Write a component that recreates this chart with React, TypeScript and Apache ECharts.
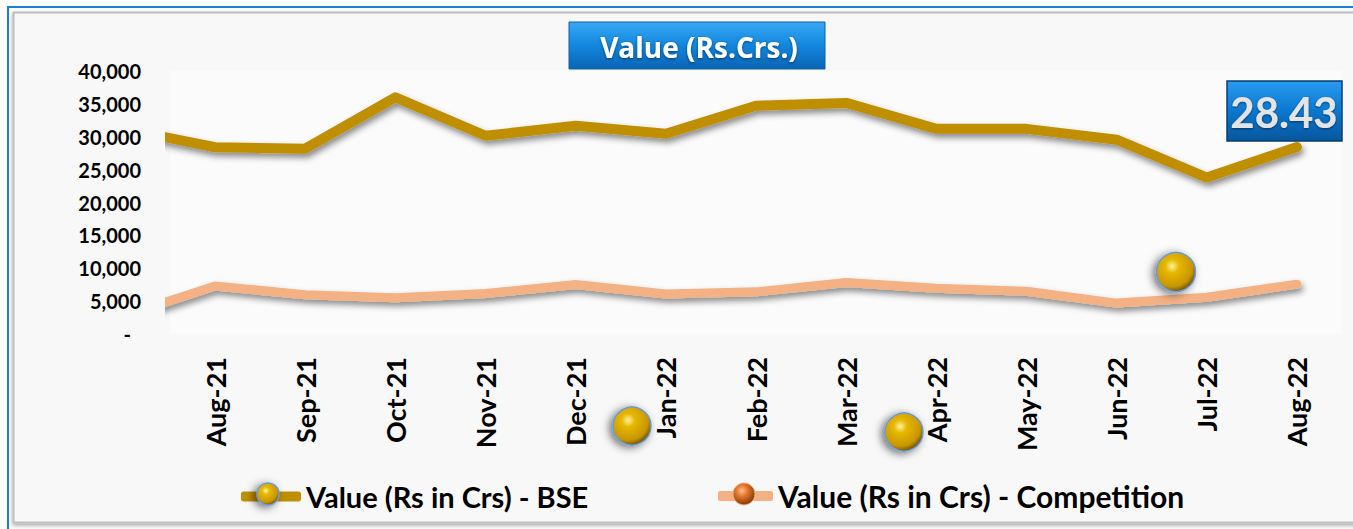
import React, { useEffect, useRef } from "react";
import * as echarts from "echarts";

const months = ["Aug-21", "Sep-21", "Oct-21", "Nov-21", "Dec-21", "Jan-22", "Feb-22", "Mar-22", "Apr-22", "May-22", "Jun-22", "Jul-22", "Aug-22"];
// index -1 is the previous month (Jul-21), only partly visible at the left edge
const xIndex = [-1, 0, 1, 2, 3, 4, 5, 6, 7, 8, 9, 10, 11, 12];
const bseValues = [31170, 28400, 28180, 36000, 30150, 31670, 30450, 34700, 35150, 31200, 31200, 29550, 23800, 28430];
const compValues = [2850, 7300, 5960, 5530, 6160, 7530, 6090, 6410, 7830, 6970, 6500, 4700, 5600, 7580];
const yTicks = [0, 5000, 10000, 15000, 20000, 25000, 30000, 35000, 40000];
const bseName = "Value (Rs in Crs) - BSE";
const compName = "Value (Rs in Crs) - Competition";
const titleText = "Value (Rs.Crs.)";
const latestText = "28.43";

const FONT = "Lato, 'Open Sans', sans-serif";

const goldBall = (cx: number, cy: number, r: number) => ({
  type: "circle",
  z: 50,
  shape: { cx, cy, r },
  style: {
    fill: new echarts.graphic.RadialGradient(0.4, 0.35, 0.7, [
      { offset: 0, color: "#fff2a0" },
      { offset: 0.25, color: "#e6b800" },
      { offset: 0.75, color: "#c89600" },
      { offset: 1, color: "#5a4300" },
    ]),
    stroke: "#6a9ad8",
    lineWidth: 1.5,
    shadowBlur: 8,
    shadowOffsetX: -3,
    shadowOffsetY: 2,
    shadowColor: "rgba(0,0,0,0.55)",
  },
});

const orangeBall = (cx: number, cy: number, r: number) => ({
  type: "circle",
  z: 50,
  shape: { cx, cy, r },
  style: {
    fill: new echarts.graphic.RadialGradient(0.4, 0.35, 0.7, [
      { offset: 0, color: "#ffc090" },
      { offset: 0.35, color: "#e87a30" },
      { offset: 1, color: "#7a3200" },
    ]),
    stroke: "#f4b183",
    lineWidth: 1,
  },
});

export default function App() {
  const ref = useRef<HTMLDivElement>(null);
  useEffect(() => {
    if (!ref.current) return;
    const chart = echarts.init(ref.current, undefined, { renderer: "svg" });
    const bseData = xIndex.map((x, i) => [x, bseValues[i]]);
    const compData = xIndex.map((x, i) => [x, compValues[i]]);
    chart.setOption({
      animation: false,
      backgroundColor: "#ffffff",
      textStyle: { fontFamily: FONT },
      grid: {
        left: 170,
        right: 11,
        top: 71,
        bottom: 195,
        show: true,
        backgroundColor: "#fbfbfb",
        borderWidth: 0,
      },
      legend: [
        {
          left: 236,
          top: 477,
          itemWidth: 60,
          itemHeight: 10,
          icon: "roundRect",
          data: [{ name: bseName, icon: "roundRect" }],
          textStyle: { fontFamily: FONT, fontSize: 29, fontWeight: "bold", color: "#000" },
        },
        {
          left: 713,
          top: 476,
          itemWidth: 55,
          itemHeight: 10,
          icon: "roundRect",
          data: [{ name: compName, icon: "roundRect" }],
          textStyle: { fontFamily: FONT, fontSize: 30, fontWeight: "bold", color: "#000" },
        },
      ],
      xAxis: {
        type: "value",
        min: -0.5,
        max: 12.5,
        axisLine: { show: false },
        axisTick: { show: false },
        splitLine: { show: false },
        axisLabel: {
          customValues: months.map((_, i) => i),
          formatter: (v: number) => months[Math.round(v)] ?? "",
          rotate: 90,
          margin: 23,
          fontFamily: FONT,
          fontSize: 27,
          fontWeight: "bold",
          color: "#000",
        },
      },
      yAxis: {
        type: "value",
        min: yTicks[0],
        max: yTicks[yTicks.length - 1],
        interval: yTicks[1] - yTicks[0],
        axisLine: { show: false },
        axisTick: { show: false },
        splitLine: { show: false },
        axisLabel: {
          margin: 29,
          fontFamily: FONT,
          fontSize: 20,
          fontWeight: "bold",
          color: "#000",
          formatter: (v: number) => (v === 0 ? "{z|-}" : v.toLocaleString("en-US")),
          rich: { z: { fontFamily: FONT, fontSize: 20, fontWeight: "bold", color: "#000", padding: [0, 10, 0, 0] } },
        },
      },
      series: [
        {
          name: bseName,
          type: "line",
          data: bseData,
          showSymbol: false,
          symbol: "none",
          clip: true,
          color: "#bf8f00",
          lineStyle: {
            width: 10,
            color: "#bf8f00",
            cap: "round",
            join: "round",
            shadowColor: "rgba(0,0,0,0.45)",
            shadowBlur: 6,
            shadowOffsetX: 2,
            shadowOffsetY: 4,
          },
        },
        {
          name: compName,
          type: "line",
          data: compData,
          showSymbol: false,
          symbol: "none",
          clip: true,
          color: "#f4b183",
          lineStyle: {
            width: 9,
            color: "#f4b183",
            cap: "round",
            join: "round",
            shadowColor: "rgba(0,0,0,0.45)",
            shadowBlur: 6,
            shadowOffsetX: 2,
            shadowOffsetY: 4,
          },
        },
      ],
      graphic: [
        {
          type: "rect",
          z: -20,
          silent: true,
          shape: { x: 8, y: 7, width: 1360, height: 540 },
          style: { fill: "#ffffff", stroke: "#1a7fd0", lineWidth: 2 },
        },
        {
          type: "rect",
          z: -19,
          silent: true,
          shape: { x: 13.5, y: 12.5, width: 1360, height: 510 },
          style: {
            fill: "#f8f8f8",
            stroke: "#bdbdbd",
            lineWidth: 2,
            shadowBlur: 4,
            shadowOffsetY: 2,
            shadowColor: "rgba(0,0,0,0.35)",
          },
        },
        // title box
        {
          type: "rect",
          z: 40,
          shape: { x: 569, y: 22, width: 256, height: 47 },
          style: {
            fill: new echarts.graphic.LinearGradient(0, 0, 0, 1, [
              { offset: 0, color: "#39a8f5" },
              { offset: 0.5, color: "#1287de" },
              { offset: 1, color: "#0a64b4" },
            ]),
            stroke: "#0c5ea8",
            lineWidth: 1,
          },
        },
        {
          type: "text",
          z: 41,
          x: 699,
          y: 47,
          style: {
            text: titleText,
            fill: "#ffffff",
            font: "bold 28px 'Open Sans', sans-serif",
            align: "center",
            verticalAlign: "middle",
            textShadowColor: "rgba(0,0,0,0.5)",
            textShadowBlur: 3,
            textShadowOffsetY: 1,
          },
        },
        // latest value box
        {
          type: "rect",
          z: 40,
          shape: { x: 1227, y: 81, width: 115, height: 60 },
          style: {
            fill: new echarts.graphic.LinearGradient(0, 0, 0, 1, [
              { offset: 0, color: "#2a9af0" },
              { offset: 0.5, color: "#0a78d0" },
              { offset: 1, color: "#07569c" },
            ]),
            stroke: "#0a3f70",
            lineWidth: 1.5,
          },
        },
        {
          type: "text",
          z: 41,
          x: 1284,
          y: 112,
          style: {
            text: latestText,
            fill: "#e4e4e4",
            font: "bold 42px " + FONT,
            align: "center",
            verticalAlign: "middle",
            textShadowColor: "rgba(0,0,0,0.5)",
            textShadowBlur: 2,
            textShadowOffsetY: 1,
          },
        },
        goldBall(1176, 272, 19.5),
        goldBall(632, 426, 19),
        goldBall(904, 432, 19),
        goldBall(268, 494, 11),
        orangeBall(744, 494, 11),
      ],
    });
    return () => chart.dispose();
  }, []);
  return (
    <div
      ref={ref}
      style={{ position: "absolute", left: 0, top: 0, width: 1353, height: 529 }}
    />
  );
}
